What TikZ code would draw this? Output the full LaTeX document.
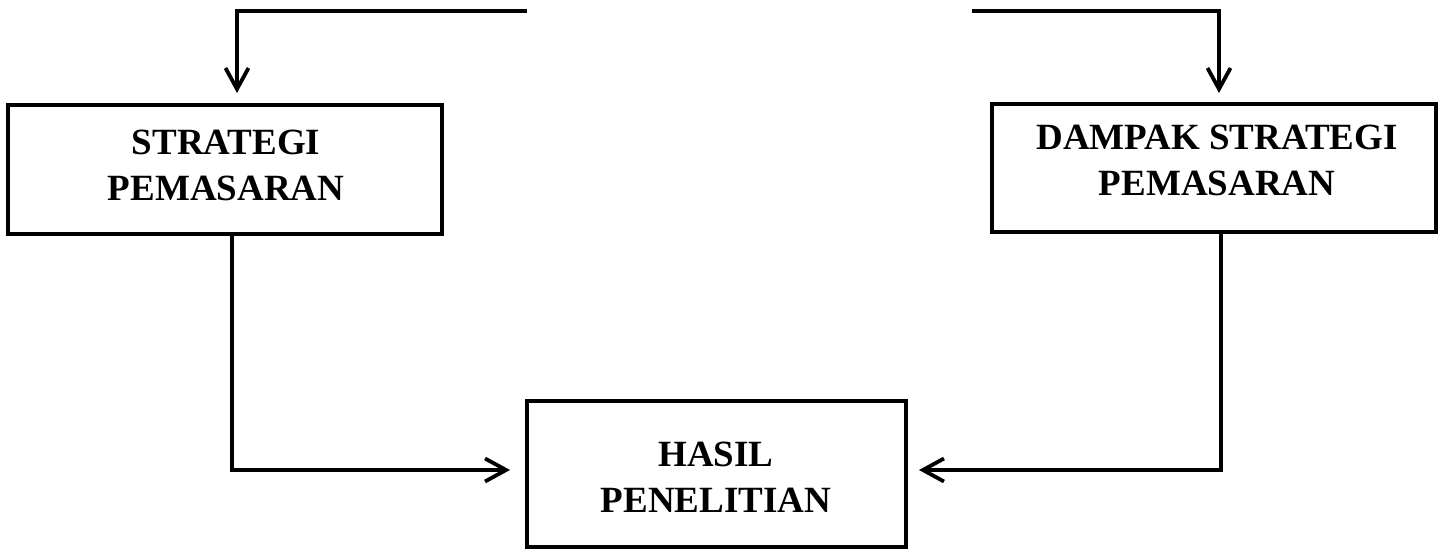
\documentclass[tikz,border=0pt]{standalone}
\usepackage{fontspec}
\setmainfont{Liberation Serif}
\usetikzlibrary{arrows.meta}
\begin{document}
\begin{tikzpicture}[x=0.5pt,y=-0.5pt,
  box/.style={draw, line width=2pt, rectangle, inner sep=0pt},
  lbl/.style={align=center, font=\bfseries\fontsize{18.5}{23}\selectfont, inner sep=0pt},
  conn/.style={line width=1.9pt},
  arr/.style={conn, -{Straight Barb[length=10.5pt,width=11.5pt,line width=1.9pt]}}]
\useasboundingbox (0,0) rectangle (1445,549);
% boxes
\node[box, minimum width=217pt, minimum height=64.5pt] (L) at (225,169.5) {};
\node[lbl] (Lt) at (226,165.5) {STRATEGI\\PEMASARAN};
\node[box, minimum width=222pt, minimum height=64pt] (R) at (1214,168) {};
\node[lbl] (Rt) at (1217,160.5) {DAMPAK STRATEGI\\PEMASARAN};
\node[box, minimum width=189.5pt, minimum height=73pt] (H) at (716.5,474) {};
\node[lbl] (Ht) at (716,477.5) {HASIL\\PENELITIAN};
% connector ends
\coordinate (t1) at (527,11);
\coordinate (a1) at (237,93);
\coordinate (t2) at (972,11);
\coordinate (a2) at (1219,93);
\coordinate (b1) at (510,470);
\coordinate (b2) at (919,470);
% connectors
\draw[arr] (t1) -| (a1);
\draw[arr] (t2) -| (a2);
\draw[arr] ([xshift=3.5pt]L.south) |- (b1);
\draw[arr] ([xshift=3.5pt]R.south) |- (b2);
\end{tikzpicture}
\end{document}
